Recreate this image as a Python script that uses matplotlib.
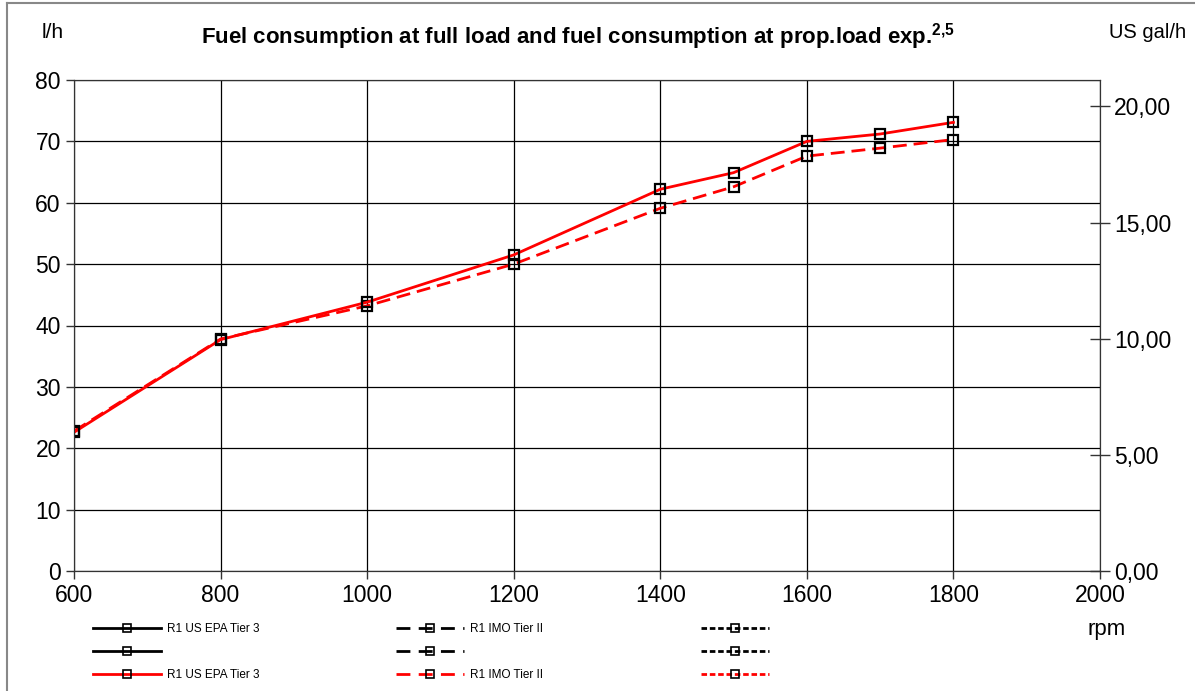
import numpy as np
import matplotlib.pyplot as plt
from matplotlib.lines import Line2D
from matplotlib.ticker import FuncFormatter

plt.rcParams['font.family'] = ['Liberation Sans', 'DejaVu Sans']
plt.rcParams['mathtext.fontset'] = 'custom'
plt.rcParams['mathtext.rm'] = 'Liberation Sans'
plt.rcParams['mathtext.bf'] = 'Liberation Sans:bold'

rpm = [600, 800, 1000, 1200, 1400, 1500, 1600, 1700, 1800]
epa_full = [22.6, 37.7, 43.8, 51.5, 62.2, 64.9, 70.0, 71.2, 73.1]
imo_full = [22.8, 37.8, 43.2, 50.0, 59.1, 62.6, 67.6, 68.9, 70.3]
gal = 3.785411784

fig = plt.figure(figsize=(11.95, 6.91), dpi=100)
ax = fig.add_axes([74/1195, 1-571/691, (1100-74)/1195, (571-80)/691])

mk = dict(marker='s', markersize=7.5, markerfacecolor='none',
          markeredgecolor='black', markeredgewidth=1.6)
ax.plot(rpm, epa_full, color='red', lw=2, **mk, zorder=4)
ax.plot(rpm, imo_full, color='red', lw=2, dashes=(5, 2.5), **mk, zorder=3)

ax.set_xlim(600, 2000)
ax.set_ylim(0, 80)
ax.set_xticks(np.arange(600, 2001, 200))
ax.set_yticks(np.arange(0, 81, 10))
ax.grid(True, color='black', lw=0.9)
ax.tick_params(labelsize=16.5, length=6, width=1, color='#333333')
ax.tick_params(axis='x', pad=3)
for s in ax.spines.values():
    s.set_color('#333333')

ax2 = ax.twinx()
ax2.set_ylim(0, 80 / gal)
ax2.set_yticks([0, 5, 10, 15, 20])
ax2.yaxis.set_major_formatter(FuncFormatter(lambda v, p: f"{v:.2f}".replace('.', ',')))
ax2.tick_params(labelsize=16.5, direction='inout', length=14, width=1, color='#333333', pad=3)
for s in ax2.spines.values():
    s.set_color('#333333')

fig.text(578/1195, 1-37/691, "Fuel consumption at full load and fuel consumption at prop.load exp.$^{\\mathbf{2{,}5}}$",
         ha='center', va='center', fontsize=16, fontweight='bold')
fig.text(53/1195, 1-33/691, "l/h", ha='center', va='center', fontsize=15)
fig.text(1148/1195, 1-33/691, "US gal/h", ha='center', va='center', fontsize=14.5)
fig.text(1107/1195, 1-630/691, "rpm", ha='center', va='center', fontsize=16)

# legend in three columns
cols = [
    [('black', '-', 'R1 US EPA Tier 3'), ('black', '-', ''), ('red', '-', 'R1 US EPA Tier 3')],
    [('black', (0, (5, 3)), 'R1 IMO Tier II'), ('black', (0, (5, 3)), ''), ('red', (0, (5, 3)), 'R1 IMO Tier II')],
    [('black', (0, (2, 1)), ''), ('black', (0, (2, 1)), ''), ('red', (0, (2, 1)), '')],
]
xs = [87, 390, 695]
for x0, col in zip(xs, cols):
    handles = [Line2D([], [], color=c, ls=ls, lw=2, marker='s', markersize=6,
                      markerfacecolor='none', markeredgecolor='black', markeredgewidth=1.2)
               for c, ls, _ in col]
    labels = [l for _, _, l in col]
    fig.legend(handles, labels, loc='upper left', bbox_to_anchor=(x0/1195, 1-617/691),
               frameon=False, handlelength=5.75, handletextpad=0.55,
               labelspacing=0.95, borderpad=0, prop={'size': 8.5})

fig.add_artist(Line2D([7/1195, 7/1195], [0, 1-3/691], color='#888888', lw=1.5))
fig.add_artist(Line2D([7/1195, 1], [1-3/691, 1-3/691], color='#888888', lw=1.5))

fig.savefig('out.png', dpi=100)
